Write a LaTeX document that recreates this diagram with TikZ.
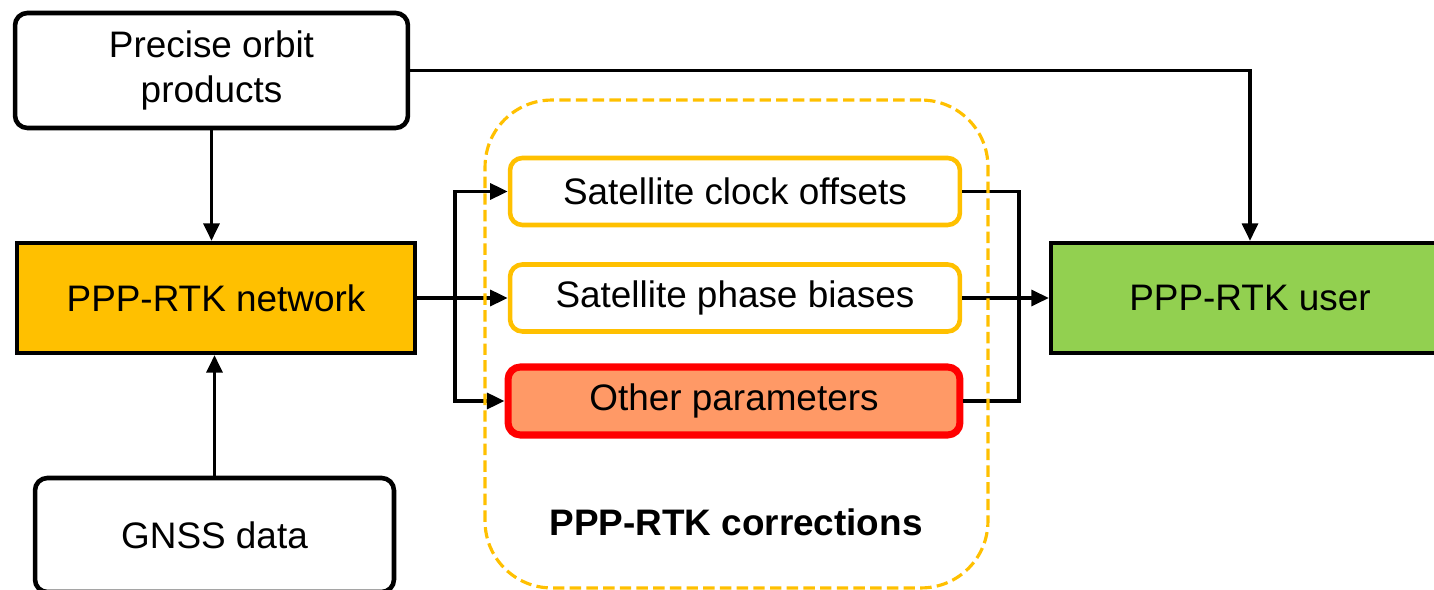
\documentclass[tikz,border=0pt]{standalone}
\usepackage{fontspec}
\setmainfont{Liberation Sans}
\usepackage{tikz}
\usetikzlibrary{arrows.meta}
\definecolor{mainYellow}{HTML}{FFC000}
\definecolor{userGreen}{HTML}{92D050}
\definecolor{otherSalmon}{HTML}{FF9966}
\definecolor{otherRed}{HTML}{FF0000}

\begin{document}
\begin{tikzpicture}[x=0.02cm,y=-0.02cm,
  every node/.style={font=\fontsize{21}{25.5}\selectfont,align=center,inner sep=0pt},
  blackBox/.style={draw,line width=2.6pt,rounded corners=7pt},
  flatBox/.style={draw,line width=2.4pt,minimum width=7.96cm,minimum height=2.2cm},
  corrBox/.style={draw=mainYellow,line width=2.6pt,rounded corners=7pt,minimum width=9cm,minimum height=1.34cm},
  groupBox/.style={draw=mainYellow,line width=1.8pt,dash pattern=on 6.5pt off 3pt,rounded corners=38pt},
  line/.style={line width=2.1pt},
  conn/.style={line,-{Triangle[length=10pt,width=9pt]}}]
\clip (0,0) rectangle (1434,590);
\node[blackBox,minimum width=7.86cm,minimum height=2.3cm] (orbit) at (211.5,70.5) {Precise orbit\\products};
\node[flatBox,fill=mainYellow] (net) at (216,298) {PPP-RTK network};
\node[blackBox,minimum width=7.18cm,minimum height=2.28cm] (gnss) at (214.5,535) {GNSS data};
\node[flatBox,fill=userGreen] (user) at (1250,298) {PPP-RTK user};
\node[corrBox] (clock) at (735,191.5) {Satellite clock offsets};
\node[corrBox] (phase) at (735,298) {Satellite phase biases};
\node[corrBox,draw=otherRed,fill=otherSalmon,line width=4pt,minimum width=9.04cm,minimum height=1.36cm] (other) at (734,401) {Other parameters};
\node[font=\bfseries\fontsize{21}{23}\selectfont] (corrLabel) at (736,522) {PPP-RTK corrections};
\coordinate (split) at (455,298);
\coordinate (merge) at (1019,298);
\draw[conn] (orbit.south) -- (orbit.south |- net.north);
\draw[conn] (gnss.north) -- (gnss.north |- net.south);
\draw[conn] (orbit.east) -| (user.north);
\draw[line] (net.east) -- (split);
\draw[conn] (split) |- (clock.west);
\draw[conn] (split) -- (phase.west);
\draw[conn] (split) |- (other.west);
\draw[line] (clock.east) -| (merge);
\draw[line] (other.east) -| (merge);
\draw[line] (phase.east) -- (merge);
\draw[conn] (merge) -- (user.west);
\node[groupBox,minimum width=10.06cm,minimum height=9.76cm] (corrGroup) at (736.5,344) {};
\end{tikzpicture}
\end{document}
